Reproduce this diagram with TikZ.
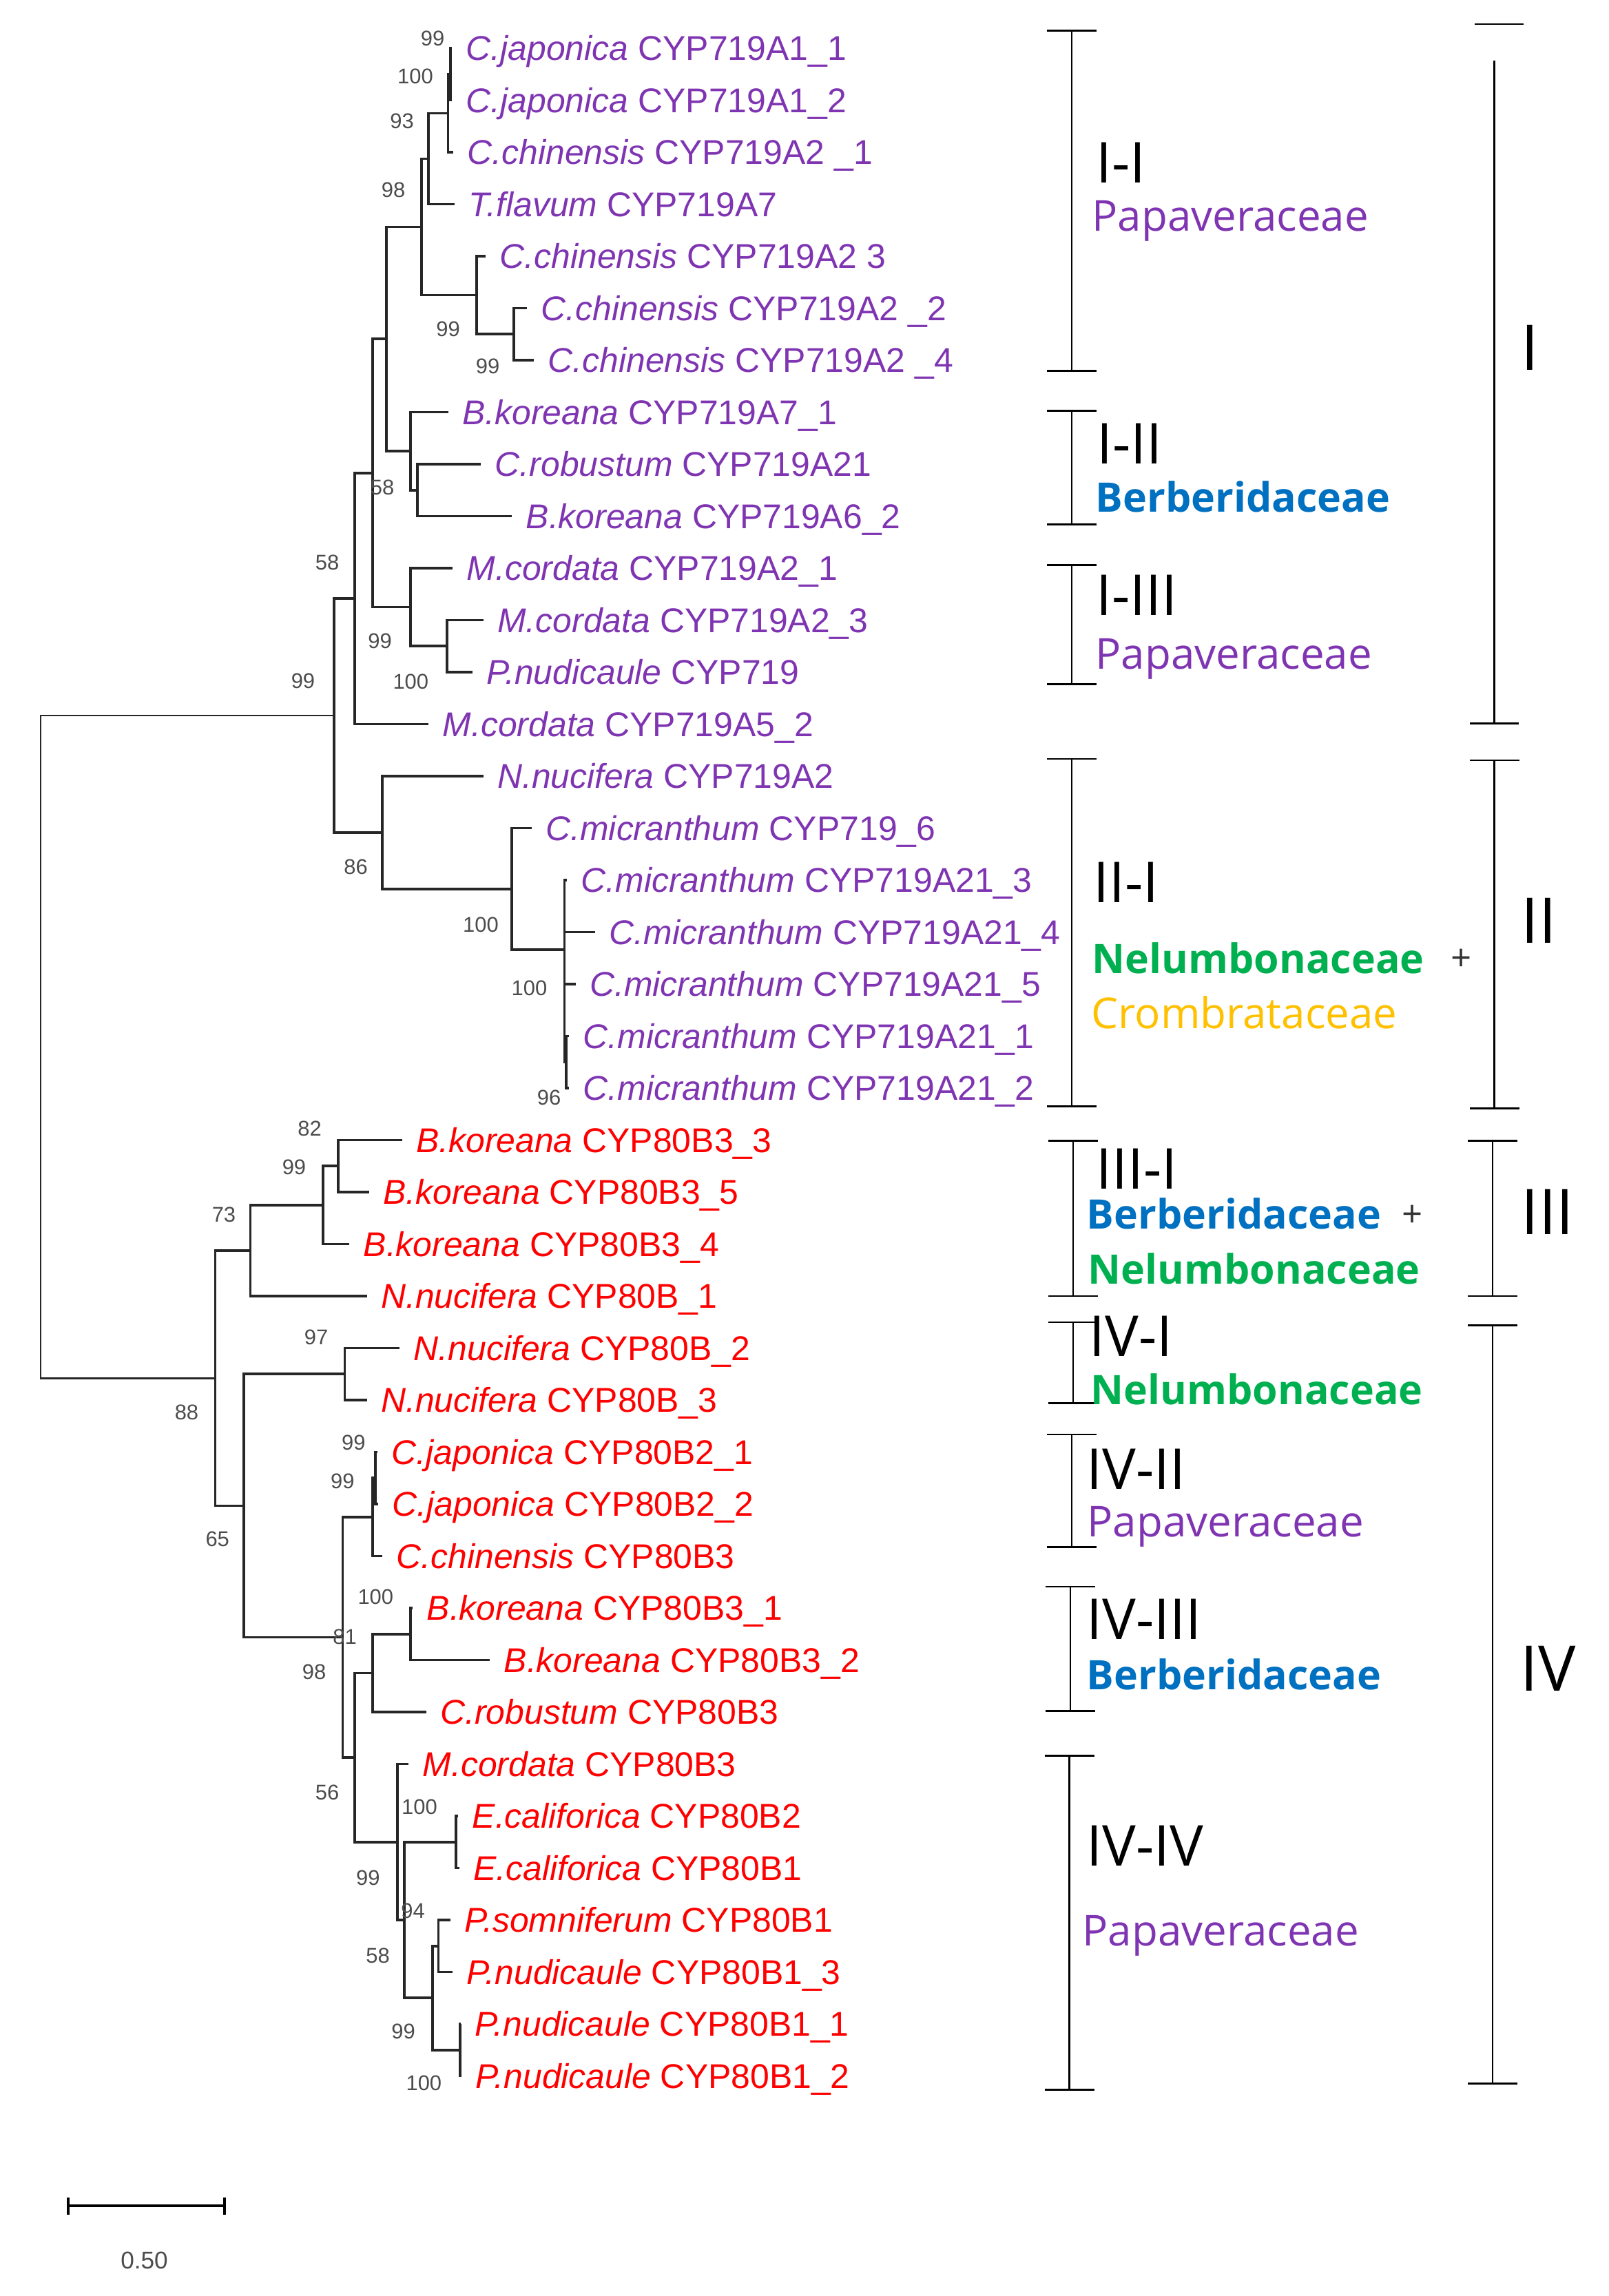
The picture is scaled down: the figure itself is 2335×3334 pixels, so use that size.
\documentclass[tikz,border=0pt]{standalone}
\usepackage{fontspec}
\setmainfont{Liberation Sans}
\newfontfamily\cladefont{Open Sans}
\usetikzlibrary{arrows.meta}
\definecolor{leafpurple}{HTML}{7F35B2}
\definecolor{berblue}{HTML}{0070C0}
\definecolor{nelgreen}{HTML}{00B050}
\definecolor{cromyellow}{HTML}{FFC000}

\begin{document}
\begin{tikzpicture}[x=0.1mm,y=-0.1mm,
  branch/.style={line width=1.05pt,black!85},
  leaf/.style={anchor=base west,inner sep=0pt,xshift=5.7pt,yshift=-5.1pt,font=\fontsize{14.2}{16}\selectfont},
  cyp719/.style={leaf,text=leafpurple},
  cyp80/.style={leaf,text=red},
  boot/.style={inner sep=0pt,text=black!70,font=\fontsize{8.8}{10}\selectfont},
  bracket/.style={line width=0.8pt,{Bar[width=7.2mm]}-{Bar[width=7.2mm]}},
  clade/.style={anchor=base west,inner sep=0pt,text depth=0pt,font=\cladefont\fontsize{23.3}{26}\selectfont},
  family/.style={anchor=base west,inner sep=0pt,font=\cladefont\fontsize{17.6}{20}\selectfont},
  boldfamily/.style={anchor=base west,inner sep=0pt,font=\cladefont\bfseries\fontsize{16.8}{20}\selectfont},
  plus/.style={inner sep=0pt,text=black!80,font=\cladefont\fontsize{15}{18}\selectfont},
  major/.style={anchor=base west,inner sep=0pt,font=\cladefont\fontsize{26}{30}\selectfont}]
  \useasboundingbox (0,0) rectangle (2335,3334);

  % leaf tips
  \coordinate (t1) at (656,70);
  \coordinate (t2) at (656,145.5);
  \coordinate (t3) at (658,221);
  \coordinate (t4) at (660,296.5);
  \coordinate (t5) at (705,372);
  \coordinate (t6) at (765,447.5);
  \coordinate (t7) at (775,523);
  \coordinate (t8) at (650.5,598.5);
  \coordinate (t9) at (698,674);
  \coordinate (t10) at (743,749.5);
  \coordinate (t11) at (657,825);
  \coordinate (t12) at (701.5,900.5);
  \coordinate (t13) at (685.6,976);
  \coordinate (t14) at (622,1051.5);
  \coordinate (t15) at (701.5,1127);
  \coordinate (t16) at (771.7,1202.5);
  \coordinate (t17) at (823,1278);
  \coordinate (t18) at (864,1353.5);
  \coordinate (t19) at (835.5,1429);
  \coordinate (t20) at (826,1504.5);
  \coordinate (t21) at (826,1580);
  \coordinate (t22) at (583.5,1655.5);
  \coordinate (t23) at (535.7,1731);
  \coordinate (t24) at (507,1806.5);
  \coordinate (t25) at (532.5,1882);
  \coordinate (t26) at (580,1957.5);
  \coordinate (t27) at (532.5,2033);
  \coordinate (t28) at (548,2108.5);
  \coordinate (t29) at (549,2184);
  \coordinate (t30) at (555,2259.5);
  \coordinate (t31) at (599,2335);
  \coordinate (t32) at (711,2410.5);
  \coordinate (t33) at (618.6,2486);
  \coordinate (t34) at (593,2561.5);
  \coordinate (t35) at (665,2637);
  \coordinate (t36) at (666.5,2712.5);
  \coordinate (t37) at (653.7,2788);
  \coordinate (t38) at (657,2863.5);
  \coordinate (t39) at (669,2939);
  \coordinate (t40) at (670,3014.5);

  % inner nodes
  \coordinate (n1) at (654,107.75);
  \coordinate (n2) at (650.5,164.4);
  \coordinate (n3) at (622,230.5);
  \coordinate (n5) at (746,485.25);
  \coordinate (n4) at (692,428.6);
  \coordinate (n6) at (612,329.5);
  \coordinate (n7) at (606,711.75);
  \coordinate (n8) at (596,655.1);
  \coordinate (n9) at (561,492.3);
  \coordinate (n10) at (649,938.25);
  \coordinate (n11) at (596,881.6);
  \coordinate (n12) at (541,687);
  \coordinate (n13) at (515,869.2);
  \coordinate (n14) at (822,1542.25);
  \coordinate (n15) at (819.5,1379);
  \coordinate (n16) at (743,1290.75);
  \coordinate (n17) at (555,1208.9);
  \coordinate (n18) at (485,1039);
  \coordinate (n19) at (491,1693.25);
  \coordinate (n20) at (469,1749.9);
  \coordinate (n21) at (363.5,1815.9);
  \coordinate (n22) at (500.6,1995.25);
  \coordinate (n23) at (545,2146.25);
  \coordinate (n24) at (541,2202.9);
  \coordinate (n25) at (596,2372.75);
  \coordinate (n26) at (541,2429.4);
  \coordinate (n27) at (662,2674.75);
  \coordinate (n28) at (636.5,2825.75);
  \coordinate (n29) at (668,2976.75);
  \coordinate (n30) at (628,2901.25);
  \coordinate (n31) at (587,2788);
  \coordinate (n32) at (577,2674.75);
  \coordinate (n33) at (515,2552.1);
  \coordinate (n34) at (497.4,2377.5);
  \coordinate (n35) at (354,2186.4);
  \coordinate (n36) at (312.5,2001.1);
  \coordinate (root) at (59,1520);

  \draw[branch] (n1) |- (t1) (n1) |- (t2)
    (n2) |- (n1) (n2) |- (t3)
    (n3) |- (n2) (n3) |- (t4)
    (n5) |- (t6) (n5) |- (t7)
    (n4) |- (t5) (n4) |- (n5)
    (n6) |- (n3) (n6) |- (n4)
    (n7) |- (t9) (n7) |- (t10)
    (n8) |- (t8) (n8) |- (n7)
    (n9) |- (n6) (n9) |- (n8)
    (n10) |- (t12) (n10) |- (t13)
    (n11) |- (t11) (n11) |- (n10)
    (n12) |- (n9) (n12) |- (n11)
    (n13) |- (n12) (n13) |- (t14)
    (n14) |- (t20) (n14) |- (t21)
    (n15) |- (t17) (n15) |- (t18) (n15) |- (t19) (n15) |- (n14)
    (n16) |- (t16) (n16) |- (n15)
    (n17) |- (t15) (n17) |- (n16)
    (n18) |- (n13) (n18) |- (n17);
  \draw[branch] (n19) |- (t22) (n19) |- (t23)
    (n20) |- (n19) (n20) |- (t24)
    (n21) |- (n20) (n21) |- (t25)
    (n22) |- (t26) (n22) |- (t27)
    (n23) |- (t28) (n23) |- (t29)
    (n24) |- (n23) (n24) |- (t30)
    (n25) |- (t31) (n25) |- (t32)
    (n26) |- (n25) (n26) |- (t33)
    (n27) |- (t35) (n27) |- (t36)
    (n28) |- (t37) (n28) |- (t38)
    (n29) |- (t39) (n29) |- (t40)
    (n30) |- (n28) (n30) |- (n29)
    (n31) |- (n27) (n31) |- (n30)
    (n32) |- (t34) (n32) |- (n31)
    (n33) |- (n26) (n33) |- (n32)
    (n34) |- (n24) (n34) |- (n33)
    (n35) |- (n22) (n35) |- (n34)
    (n36) |- (n21) (n36) |- (n35);
  \draw[branch,line width=0.8pt] (root) |- (n18) (root) |- (n36);

  % leaf labels
  \node[cyp719] (L1) at (t1) {\textit{C.japonica} CYP719A1\_1};
  \node[cyp719] (L2) at (t2) {\textit{C.japonica} CYP719A1\_2};
  \node[cyp719] (L3) at (t3) {\textit{C.chinensis} CYP719A2 \_1};
  \node[cyp719] (L4) at (t4) {\textit{T.flavum} CYP719A7};
  \node[cyp719] (L5) at (t5) {\textit{C.chinensis} CYP719A2 3};
  \node[cyp719] (L6) at (t6) {\textit{C.chinensis} CYP719A2 \_2};
  \node[cyp719] (L7) at (t7) {\textit{C.chinensis} CYP719A2 \_4};
  \node[cyp719] (L8) at (t8) {\textit{B.koreana} CYP719A7\_1};
  \node[cyp719] (L9) at (t9) {\textit{C.robustum} CYP719A21};
  \node[cyp719] (L10) at (t10) {\textit{B.koreana} CYP719A6\_2};
  \node[cyp719] (L11) at (t11) {\textit{M.cordata} CYP719A2\_1};
  \node[cyp719] (L12) at (t12) {\textit{M.cordata} CYP719A2\_3};
  \node[cyp719] (L13) at (t13) {\textit{P.nudicaule} CYP719};
  \node[cyp719] (L14) at (t14) {\textit{M.cordata} CYP719A5\_2};
  \node[cyp719] (L15) at (t15) {\textit{N.nucifera} CYP719A2};
  \node[cyp719] (L16) at (t16) {\textit{C.micranthum} CYP719\_6};
  \node[cyp719] (L17) at (t17) {\textit{C.micranthum} CYP719A21\_3};
  \node[cyp719] (L18) at (t18) {\textit{C.micranthum} CYP719A21\_4};
  \node[cyp719] (L19) at (t19) {\textit{C.micranthum} CYP719A21\_5};
  \node[cyp719] (L20) at (t20) {\textit{C.micranthum} CYP719A21\_1};
  \node[cyp719] (L21) at (t21) {\textit{C.micranthum} CYP719A21\_2};
  \node[cyp80] (L22) at (t22) {\textit{B.koreana} CYP80B3\_3};
  \node[cyp80] (L23) at (t23) {\textit{B.koreana} CYP80B3\_5};
  \node[cyp80] (L24) at (t24) {\textit{B.koreana} CYP80B3\_4};
  \node[cyp80] (L25) at (t25) {\textit{N.nucifera} CYP80B\_1};
  \node[cyp80] (L26) at (t26) {\textit{N.nucifera} CYP80B\_2};
  \node[cyp80] (L27) at (t27) {\textit{N.nucifera} CYP80B\_3};
  \node[cyp80] (L28) at (t28) {\textit{C.japonica} CYP80B2\_1};
  \node[cyp80] (L29) at (t29) {\textit{C.japonica} CYP80B2\_2};
  \node[cyp80] (L30) at (t30) {\textit{C.chinensis} CYP80B3};
  \node[cyp80] (L31) at (t31) {\textit{B.koreana} CYP80B3\_1};
  \node[cyp80] (L32) at (t32) {\textit{B.koreana} CYP80B3\_2};
  \node[cyp80] (L33) at (t33) {\textit{C.robustum} CYP80B3};
  \node[cyp80] (L34) at (t34) {\textit{M.cordata} CYP80B3};
  \node[cyp80] (L35) at (t35) {\textit{E.califorica} CYP80B2};
  \node[cyp80] (L36) at (t36) {\textit{E.califorica} CYP80B1};
  \node[cyp80] (L37) at (t37) {\textit{P.somniferum} CYP80B1};
  \node[cyp80] (L38) at (t38) {\textit{P.nudicaule} CYP80B1\_3};
  \node[cyp80] (L39) at (t39) {\textit{P.nudicaule} CYP80B1\_1};
  \node[cyp80] (L40) at (t40) {\textit{P.nudicaule} CYP80B1\_2};

  % bootstrap values
  \node[boot] (bs1) at (628,55.5) {99};
  \node[boot] (bs2) at (603,111) {100};
  \node[boot] (bs3) at (583.5,176) {93};
  \node[boot] (bs4) at (571,275.5) {98};
  \node[boot] (bs5) at (650.5,478) {99};
  \node[boot] (bs6) at (708,532) {99};
  \node[boot] (bs7) at (555,708) {58};
  \node[boot] (bs8) at (475,816.6) {58};
  \node[boot] (bs9) at (551.6,930.6) {99};
  \node[boot] (bs10) at (596.3,990) {100};
  \node[boot] (bs11) at (440,988.5) {99};
  \node[boot] (bs12) at (516.6,1258.6) {86};
  \node[boot] (bs13) at (698,1342.8) {100};
  \node[boot] (bs14) at (768.5,1434.6) {100};
  \node[boot] (bs15) at (797,1593.4) {96};
  \node[boot] (bs16) at (449.6,1639) {82};
  \node[boot] (bs17) at (427,1695) {99};
  \node[boot] (bs18) at (325,1764) {73};
  \node[boot] (bs19) at (459,1941.6) {97};
  \node[boot] (bs20) at (271,2051) {88};
  \node[boot] (bs21) at (513.4,2094.7) {99};
  \node[boot] (bs22) at (497.4,2151) {99};
  \node[boot] (bs23) at (315.7,2235) {65};
  \node[boot] (bs24) at (545.3,2319) {100};
  \node[boot] (bs25) at (500.6,2377) {81};
  \node[boot] (bs26) at (456,2428) {98};
  \node[boot] (bs27) at (475,2603) {56};
  \node[boot] (bs28) at (609,2623.7) {100};
  \node[boot] (bs29) at (534.4,2727) {99};
  \node[boot] (bs30) at (599.5,2774.5) {94};
  \node[boot] (bs31) at (548.5,2839.4) {58};
  \node[boot] (bs32) at (585.5,2950) {99};
  \node[boot] (bs33) at (615.4,3025) {100};

  % subclade brackets
  \draw[bracket] (1556,43.5) -- (1556,540);
  \draw[bracket] (1556,595) -- (1556,763);
  \draw[bracket] (1556,819) -- (1556,995);
  \draw[bracket] (1556,1100.5) -- (1556,1607.7);
  \draw[bracket] (1558,1654.7) -- (1558,1883.4);
  \draw[bracket] (1558,1918.5) -- (1558,2039);
  \draw[bracket] (1556,2081.6) -- (1556,2248);
  \draw[bracket] (1554,2302.5) -- (1554,2486);
  \draw[bracket] (1552.7,2548) -- (1552.7,3035.6);

  \node[clade] (c11) at (1591,265) {I-I};
  \node[family,text=leafpurple] (f11) at (1585,335) {Papaveraceae};
  \node[clade] (c12) at (1592,673) {I-II};
  \node[boldfamily,text=berblue] (f12) at (1590,743.6) {Berberidaceae};
  \node[clade] (c13) at (1591,893) {I-III};
  \node[family,text=leafpurple] (f13) at (1590,971.6) {Papaveraceae};
  \node[clade] (c21) at (1587,1310) {II-I};
  \node[boldfamily,text=nelgreen] (f21a) at (1585,1413) {Nelumbonaceae};
  \node[plus] (p21) at (2121.6,1393.7) {+};
  \node[family,text=cromyellow] (f21b) at (1584,1493) {Crombrataceae};
  \node[clade] (c31) at (1591,1726) {III-I};
  \node[boldfamily,text=berblue] (f31a) at (1577,1784) {Berberidaceae};
  \node[plus] (p31) at (2051,1765.5) {+};
  \node[boldfamily,text=nelgreen] (f31b) at (1579,1864) {Nelumbonaceae};
  \node[clade] (c41) at (1581,1969) {IV-I};
  \node[boldfamily,text=nelgreen] (f41) at (1583,2039) {Nelumbonaceae};
  \node[clade] (c42) at (1577,2162) {IV-II};
  \node[family,text=leafpurple] (f42) at (1578,2231) {Papaveraceae};
  \node[clade] (c43) at (1577,2380) {IV-III};
  \node[boldfamily,text=berblue] (f43) at (1577,2453) {Berberidaceae};
  \node[clade] (c44) at (1577,2709) {IV-IV};
  \node[family,text=leafpurple] (f44) at (1571,2825) {Papaveraceae};

  % main clades
  \draw[line width=0.8pt] (2141,35) -- (2212,35);
  \draw[line width=0.8pt,-{Bar[width=7.1mm]}] (2169.5,87.7) -- (2169.5,1052);
  \draw[bracket] (2169.5,1102.6) -- (2169.5,1611);
  \draw[bracket] (2167,1654.7) -- (2167,1883.4);
  \draw[bracket] (2167,1923) -- (2167,3026.5);
  \node[major] (gI) at (2208,537) {I};
  \node[major] (gII) at (2208,1369) {II};
  \node[major] (gIII) at (2208,1792) {III};
  \node[major] (gIV) at (2207,2455) {IV};

  % scale
  \draw[line width=1.2pt,{Bar[width=2.5mm]}-{Bar[width=2.5mm]}] (97,3203) -- (328,3203);
  \node[boot,font=\fontsize{10}{12}\selectfont] (sc) at (209.5,3282) {0.50};
\end{tikzpicture}
\end{document}
